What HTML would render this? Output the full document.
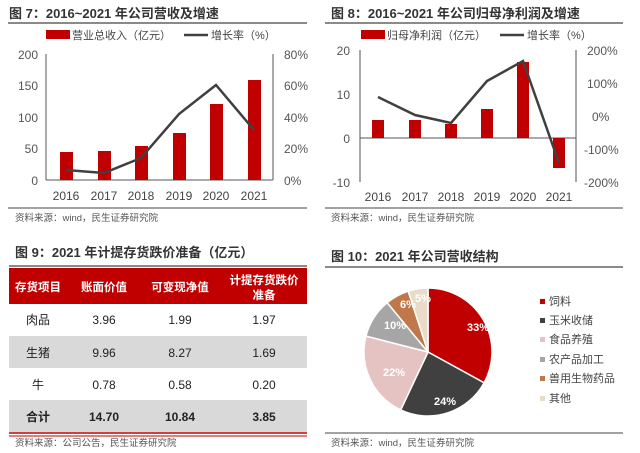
<!DOCTYPE html>
<html><head><meta charset="utf-8"><style>
body{margin:0;background:#fff;width:640px;height:453px;overflow:hidden;font-family:"Liberation Sans","Noto Sans CJK SC",sans-serif;}
svg{position:absolute;left:0;top:0}
</style></head><body>
<svg width="640" height="453" viewBox="0 0 640 453" font-family="Liberation Sans, Noto Sans CJK SC, sans-serif">
<!-- Chart 7 -->
<text x="9" y="18" font-size="13" font-weight="bold" fill="#333">图 7：2016~2021 年公司营收及增速</text>
<line x1="8" y1="23" x2="307" y2="23" stroke="#444" stroke-width="1.2"/>
<rect x="46" y="30" width="24" height="9" fill="#c00000"/>
<text x="72" y="39" font-size="11" fill="#444">营业总收入（亿元）</text>
<line x1="184" y1="35" x2="208" y2="35" stroke="#404040" stroke-width="2.5"/>
<text x="211" y="39" font-size="11" fill="#444">增长率（%）</text>
<line x1="46" y1="54" x2="46" y2="180" stroke="#555"/>
<line x1="273" y1="54" x2="273" y2="180" stroke="#555"/>
<line x1="46" y1="180" x2="273" y2="180" stroke="#555"/>
<g font-size="12" fill="#555" text-anchor="end">
<text x="38" y="59">200</text><text x="38" y="90">150</text><text x="38" y="122">100</text><text x="38" y="153">50</text><text x="38" y="185">0</text>
</g>
<g font-size="12" fill="#555">
<text x="284" y="59">80%</text><text x="284" y="90">60%</text><text x="284" y="122">40%</text><text x="284" y="153">20%</text><text x="284" y="185">0%</text>
</g>
<g fill="#c00000">
<rect x="60" y="152" width="13" height="28"/><rect x="98" y="151" width="13" height="29"/><rect x="135" y="146" width="13" height="34"/><rect x="173" y="133" width="13" height="47"/><rect x="210" y="104" width="13" height="76"/><rect x="248" y="80" width="13" height="100"/>
</g>
<polyline points="66,170 104,173 141,158 179,114 216,85 254,130" fill="none" stroke="#404040" stroke-width="2.5"/>
<g font-size="12" fill="#444" text-anchor="middle">
<text x="66" y="200">2016</text><text x="104" y="200">2017</text><text x="141" y="200">2018</text><text x="179" y="200">2019</text><text x="216" y="200">2020</text><text x="254" y="200">2021</text>
</g>
<line x1="8" y1="208" x2="307" y2="208" stroke="#444"/>
<text x="15" y="221" font-size="9.5" fill="#555">资料来源：wind，民生证券研究院</text>

<!-- Chart 8 -->
<text x="331" y="18" font-size="13" font-weight="bold" fill="#333">图 8：2016~2021 年公司归母净利润及增速</text>
<line x1="325" y1="23" x2="623" y2="23" stroke="#444" stroke-width="1.2"/>
<rect x="361" y="30" width="24" height="9" fill="#c00000"/>
<text x="387" y="39" font-size="11" fill="#444">归母净利润（亿元）</text>
<line x1="500" y1="35" x2="524" y2="35" stroke="#404040" stroke-width="2.5"/>
<text x="527" y="39" font-size="11" fill="#444">增长率（%）</text>
<line x1="360" y1="50" x2="360" y2="182" stroke="#555"/>
<line x1="576" y1="50" x2="576" y2="182" stroke="#555"/>
<line x1="360" y1="138" x2="576" y2="138" stroke="#555"/>
<g font-size="12" fill="#555" text-anchor="end">
<text x="350" y="55">20</text><text x="350" y="99">10</text><text x="350" y="143">0</text><text x="350" y="187">-10</text>
</g>
<g font-size="12" fill="#555">
<text x="587" y="55">200%</text><text x="587" y="88">100%</text><text x="592" y="121">0%</text><text x="584" y="154">-100%</text><text x="584" y="187">-200%</text>
</g>
<g fill="#c00000">
<rect x="372" y="120" width="12" height="18"/><rect x="409" y="120" width="12" height="18"/><rect x="445" y="124" width="12" height="14"/><rect x="481" y="109" width="12" height="29"/><rect x="517" y="62" width="12" height="76"/><rect x="553" y="138" width="12" height="30"/>
</g>
<polyline points="378,97 415,115 451,123 487,81 523,61 559,163" fill="none" stroke="#404040" stroke-width="2.5"/>
<g font-size="12" fill="#444" text-anchor="middle">
<text x="378" y="201">2016</text><text x="415" y="201">2017</text><text x="451" y="201">2018</text><text x="487" y="201">2019</text><text x="523" y="201">2020</text><text x="559" y="201">2021</text>
</g>
<line x1="325" y1="208" x2="623" y2="208" stroke="#444"/>
<text x="331" y="221" font-size="9.5" fill="#555">资料来源：wind，民生证券研究院</text>

<!-- Table 9 -->
<text x="15" y="257" font-size="13" font-weight="bold" fill="#333">图 9：2021 年计提存货跌价准备（亿元）</text>
<line x1="9" y1="266" x2="307" y2="266" stroke="#444" stroke-width="1.2"/>
<rect x="9" y="268" width="298" height="36" fill="#c00000"/>
<g font-size="11.5" font-weight="bold" fill="#fff" text-anchor="middle">
<text x="38" y="291">存货项目</text><text x="104" y="291">账面价值</text><text x="180" y="291">可变现净值</text><text x="264" y="284">计提存货跌价</text><text x="264" y="299">准备</text>
</g>
<rect x="9" y="336" width="298" height="32" fill="#d9d9d9"/>
<rect x="9" y="400" width="298" height="32" fill="#d9d9d9"/>
<g font-size="12" fill="#222" text-anchor="middle">
<text x="38" y="324">肉品</text><text x="104" y="324">3.96</text><text x="180" y="324">1.99</text><text x="264" y="324">1.97</text>
<text x="38" y="357">生猪</text><text x="104" y="357">9.96</text><text x="180" y="357">8.27</text><text x="264" y="357">1.69</text>
<text x="38" y="389">牛</text><text x="104" y="389">0.78</text><text x="180" y="389">0.58</text><text x="264" y="389">0.20</text>
<g font-weight="bold"><text x="38" y="421">合计</text><text x="104" y="421">14.70</text><text x="180" y="421">10.84</text><text x="264" y="421">3.85</text></g>
</g>
<line x1="9" y1="433" x2="307" y2="433" stroke="#c00000" stroke-width="1.5"/>
<line x1="9" y1="436" x2="307" y2="436" stroke="#c00000" stroke-width="1"/>
<text x="15" y="446" font-size="9.5" fill="#555">资料来源：公司公告，民生证券研究院</text>

<!-- Pie 10 -->
<text x="331" y="261" font-size="13" font-weight="bold" fill="#333">图 10：2021 年公司营收结构</text>
<line x1="325" y1="267" x2="623" y2="267" stroke="#444" stroke-width="1.2"/>
<g stroke="#fff" stroke-width="1.5">
<path d="M428,352 L428,288 A64,64 0 0 1 484.1,382.8 Z" fill="#c00000"/>
<path d="M428,352 L484.1,382.8 A64,64 0 0 1 400.7,409.9 Z" fill="#404040"/>
<path d="M428,352 L400.7,409.9 A64,64 0 0 1 366.0,336.1 Z" fill="#e6c3c3"/>
<path d="M428,352 L366.0,336.1 A64,64 0 0 1 387.2,302.7 Z" fill="#a6a6a6"/>
<path d="M428,352 L387.2,302.7 A64,64 0 0 1 408.2,291.1 Z" fill="#c0784a"/>
<path d="M428,352 L408.2,291.1 A64,64 0 0 1 428,288 Z" fill="#e8dcc8"/>
</g>
<g font-size="11" font-weight="bold" fill="#fff" text-anchor="middle">
<text x="478" y="331">33%</text><text x="445" y="405">24%</text><text x="394" y="376">22%</text><text x="395" y="329">10%</text><text x="408" y="308">6%</text><text x="423" y="302">5%</text>
</g>
<g font-size="11" fill="#444">
<rect x="540" y="299" width="5" height="5" fill="#c00000"/><text x="549" y="305">饲料</text>
<rect x="540" y="318" width="5" height="5" fill="#404040"/><text x="549" y="324">玉米收储</text>
<rect x="540" y="337" width="5" height="5" fill="#e6c3c3"/><text x="549" y="343">食品养殖</text>
<rect x="540" y="357" width="5" height="5" fill="#a6a6a6"/><text x="549" y="363">农产品加工</text>
<rect x="540" y="376" width="5" height="5" fill="#c0784a"/><text x="549" y="382">兽用生物药品</text>
<rect x="540" y="396" width="5" height="5" fill="#e8dcc8"/><text x="549" y="402">其他</text>
</g>
<line x1="325" y1="433" x2="623" y2="433" stroke="#444"/>
<text x="331" y="446" font-size="9.5" fill="#555">资料来源：wind，民生证券研究院</text>
</svg>
</body></html>
